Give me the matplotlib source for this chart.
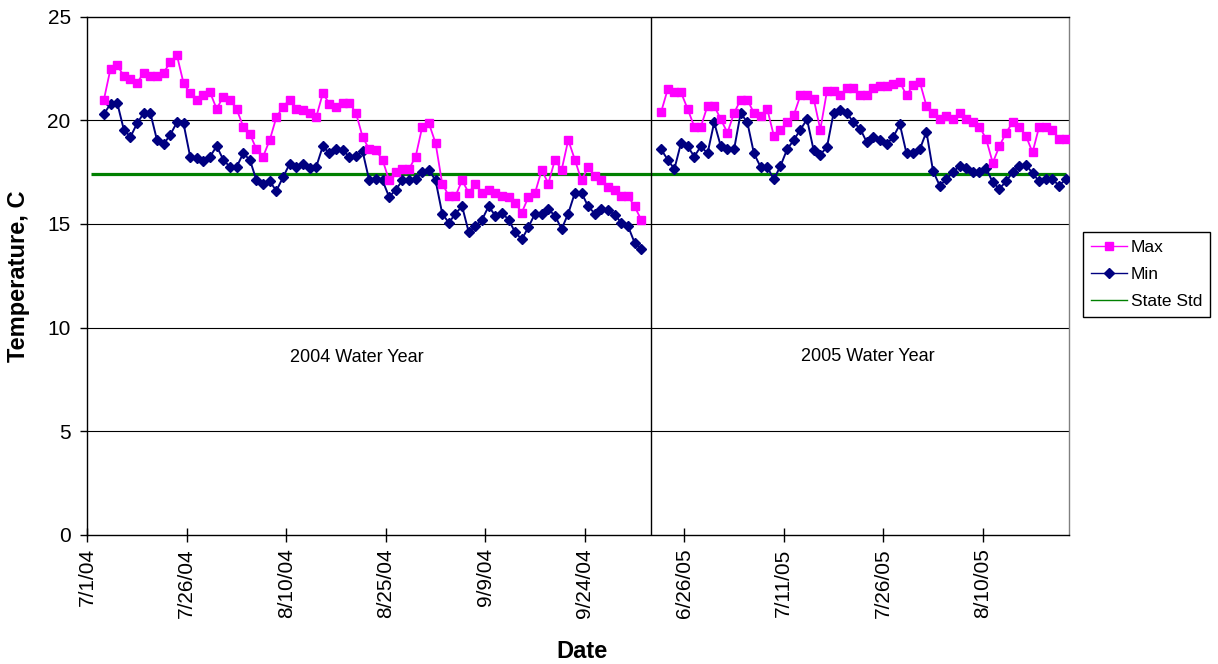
import numpy as np
import matplotlib
matplotlib.use('Agg')
import matplotlib.pyplot as plt
from matplotlib.lines import Line2D

plt.rcParams['font.family'] = ['Liberation Sans', 'DejaVu Sans']

# category axis: one category per row of the sheet, 148 rows
n_cats = 148
tick_cats = [0, 15, 30, 45, 60, 75, 90, 105, 120, 135]
tick_labels = ['7/1/04', '7/26/04', '8/10/04', '8/25/04', '9/9/04', '9/24/04',
               '6/26/05', '7/11/05', '7/26/05', '8/10/05']

# 2004 water year, rows 2..83
start_2004 = 2
max_2004 = [21.0, 22.5, 22.65, 22.15, 22.0, 21.8, 22.3, 22.15, 22.15, 22.3,
            22.8, 23.15, 21.8, 21.3, 21.0, 21.2, 21.35, 20.55, 21.15, 21.0,
            20.55, 19.7, 19.35, 18.6, 18.25, 19.05, 20.15, 20.65, 21.0, 20.55,
            20.5, 20.35, 20.15, 21.3, 20.8, 20.65, 20.85, 20.85, 20.35, 19.2,
            18.6, 18.55, 18.1, 17.1, 17.5, 17.65, 17.65, 18.25, 19.7, 19.85,
            18.9, 16.95, 16.35, 16.35, 17.1, 16.5, 16.95, 16.5, 16.65, 16.5,
            16.35, 16.3, 16.0, 15.55, 16.3, 16.5, 17.6, 16.95, 18.1, 17.6,
            19.05, 18.1, 17.1, 17.75, 17.3, 17.1, 16.8, 16.65, 16.35, 16.35,
            15.85, 15.2]
min_2004 = [20.3, 20.8, 20.85, 19.55, 19.2, 19.85, 20.35, 20.35, 19.05, 18.85,
            19.3, 19.9, 19.85, 18.25, 18.2, 18.05, 18.25, 18.75, 18.1, 17.75,
            17.75, 18.4, 18.1, 17.1, 16.95, 17.05, 16.6, 17.25, 17.9, 17.75,
            17.9, 17.7, 17.75, 18.75, 18.4, 18.6, 18.55, 18.25, 18.3, 18.5,
            17.1, 17.15, 17.1, 16.3, 16.65, 17.1, 17.1, 17.15, 17.5, 17.6,
            17.1, 15.5, 15.05, 15.5, 15.85, 14.6, 14.9, 15.2, 15.85, 15.4,
            15.55, 15.2, 14.6, 14.25, 14.85, 15.5, 15.5, 15.7, 15.4, 14.75,
            15.5, 16.5, 16.5, 15.85, 15.5, 15.7, 15.65, 15.45, 15.05, 14.9,
            14.1, 13.8]

# 2005 water year, rows 86..147
start_2005 = 86
max_2005 = [20.4, 21.5, 21.35, 21.35, 20.55, 19.7, 19.7, 20.7, 20.7, 20.05,
            19.4, 20.35, 21.0, 21.0, 20.35, 20.2, 20.55, 19.25, 19.55, 19.9,
            20.25, 21.2, 21.2, 21.05, 19.55, 21.4, 21.4, 21.2, 21.55, 21.55,
            21.2, 21.2, 21.55, 21.65, 21.65, 21.75, 21.85, 21.2, 21.7, 21.85,
            20.7, 20.35, 20.05, 20.2, 20.05, 20.35, 20.05, 19.9, 19.7, 19.1,
            17.95, 18.75, 19.4, 19.9, 19.7, 19.25, 18.45, 19.7, 19.7, 19.55,
            19.1, 19.1]
min_2005 = [18.6, 18.1, 17.65, 18.9, 18.75, 18.25, 18.75, 18.4, 19.9, 18.75,
            18.6, 18.6, 20.35, 19.9, 18.4, 17.75, 17.75, 17.15, 17.8, 18.6,
            19.05, 19.55, 20.05, 18.55, 18.35, 18.7, 20.35, 20.5, 20.35, 19.9,
            19.6, 18.95, 19.2, 19.05, 18.85, 19.2, 19.8, 18.4, 18.4, 18.6,
            19.45, 17.55, 16.85, 17.15, 17.5, 17.8, 17.7, 17.5, 17.5, 17.7,
            17.0, 16.7, 17.05, 17.5, 17.8, 17.85, 17.45, 17.05, 17.15, 17.15,
            16.85, 17.15]

state_std = 17.4
divider_cat = 85
notes = [('2004 Water Year', 40.7, 8.55), ('2005 Water Year', 117.7, 8.6)]

max_color = '#FF00FF'
min_color = '#000080'
std_color = '#008000'

fig = plt.figure(figsize=(12.18, 6.64), dpi=100)
ax = fig.add_axes([0.0717, 0.1947, 0.806, 0.7801])

# horizontal gridlines
for y in [5, 10, 15, 20]:
    ax.axhline(y, color='black', lw=0.8, zorder=1)

ax.hlines(state_std, 0.5, n_cats - 0.5, color=std_color, lw=2.3, zorder=2)

for start, mx, mn in [(start_2004, max_2004, min_2004), (start_2005, max_2005, min_2005)]:
    x = np.arange(start, start + len(mx)) + 0.5
    ax.plot(x, mx, color=max_color, lw=1.3, marker='s', ms=6.3,
            mec=max_color, mfc=max_color, zorder=4)
    ax.plot(x, mn, color=min_color, lw=1.4, marker='D', ms=4.8,
            mec=min_color, mfc=min_color, zorder=3)

ax.axvline(divider_cat, color='black', lw=1, zorder=2)

for txt, xc, yc in notes:
    ax.text(xc, yc, txt, ha='center', va='center', fontsize=13)

ax.set_xlim(0, n_cats)
ax.set_ylim(0, 25)
ax.set_yticks([0, 5, 10, 15, 20, 25])
ax.set_xticks(tick_cats)
ax.set_xticklabels(tick_labels, rotation=90)
ax.tick_params(axis='y', direction='out', length=5, width=1, pad=7, labelsize=15)
ax.tick_params(axis='x', direction='inout', length=9.5, width=1, pad=5, labelsize=15)

for s in ['left', 'bottom', 'top']:
    ax.spines[s].set_color('black')
    ax.spines[s].set_linewidth(1)
ax.spines['right'].set_color('#808080')
ax.spines['right'].set_linewidth(1)

ax.set_xlabel('Date', fontsize=17, fontweight='bold', va='center')
ax.xaxis.set_label_coords(0.504, -0.2245)
ax.set_ylabel('Temperature, C', fontsize=17, fontweight='bold', va='center')
ax.yaxis.set_label_coords(-0.0706, 0.4985)

handles = [
    Line2D([], [], color=max_color, lw=1, marker='s', ms=6.3, mec=max_color, mfc=max_color),
    Line2D([], [], color=min_color, lw=1, marker='D', ms=4.8, mec=min_color, mfc=min_color),
    Line2D([], [], color=std_color, lw=1),
]
leg = fig.legend(handles, ['Max', 'Min', 'State Std'], loc='upper left',
                 bbox_to_anchor=(0.889, 0.6506), borderaxespad=0, fontsize=12.5,
                 frameon=True, fancybox=False, edgecolor='black', framealpha=1,
                 handlelength=2.1, handletextpad=0.2, labelspacing=0.68,
                 borderpad=0.45)
leg.get_frame().set_linewidth(1)

fig.savefig('out.png', dpi=100)
